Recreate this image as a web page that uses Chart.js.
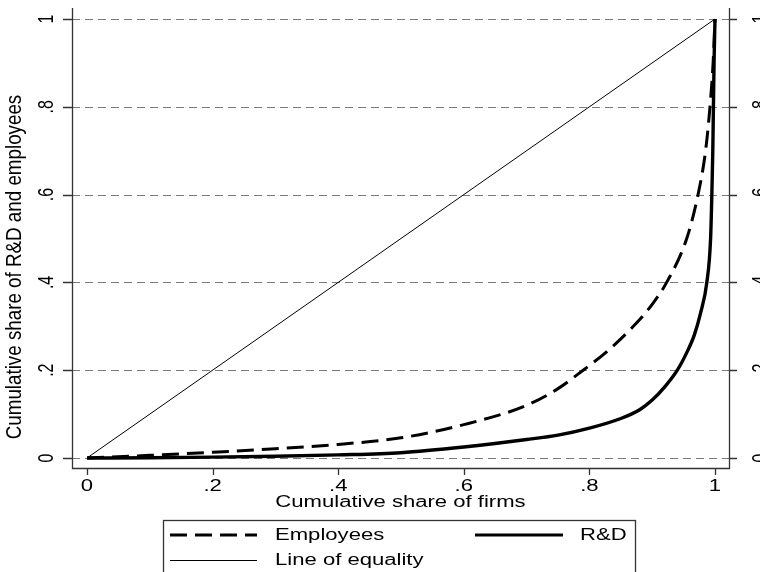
<!DOCTYPE html>
<html>
<head>
<meta charset="utf-8">
<script src="https://cdn.jsdelivr.net/npm/chart.js@4.4.1/dist/chart.umd.min.js"></script>
<style>
  html, body { margin: 0; padding: 0; background: #fff; }
  #wrap { width: 760px; height: 572px; position: relative; }
</style>
</head>
<body>
<div id="wrap"><canvas id="lorenzChart" width="760" height="572"></canvas></div>
<script>
// Lorenz curves
const shareFirmsEmp = [0, 0.1, 0.2, 0.3, 0.4, 0.5, 0.6, 0.7, 0.75, 0.79, 0.83, 0.87, 0.9, 0.923, 0.955, 0.973, 0.985, 0.992, 0.997, 1];
const shareEmployees = [0, 0.006, 0.013, 0.021, 0.031, 0.046, 0.076, 0.12, 0.158, 0.2, 0.245, 0.3, 0.35, 0.4, 0.5, 0.6, 0.7, 0.8, 0.9, 1];

const shareFirmsRD = [0, 0.1, 0.2, 0.3, 0.4, 0.5, 0.6, 0.7, 0.75, 0.8, 0.85, 0.88, 0.9, 0.92, 0.94, 0.955, 0.967, 0.977, 0.987, 0.993, 0.995, 0.9965, 0.9975, 0.9985, 1];
const shareRD = [0, 0.0005, 0.002, 0.004, 0.007, 0.012, 0.025, 0.042, 0.052, 0.068, 0.09, 0.11, 0.132, 0.162, 0.2, 0.24, 0.28, 0.33, 0.4, 0.5, 0.6, 0.7, 0.8, 0.9, 1];

const equalityX = [0, 1];
const equalityY = [0, 1];

const tickValues = [0, 0.2, 0.4, 0.6, 0.8, 1];
const tickLabels = ['0', '.2', '.4', '.6', '.8', '1'];

const SX = 1.38;   // the picture's text is stretched sideways
const FONT = '"Liberation Sans", Arial, sans-serif';

function pts(xs, ys) { return xs.map((x, i) => ({ x: x, y: ys[i] })); }

function txt(ctx, s, x, y, size, align, base, rot, sx) {
  ctx.save();
  ctx.translate(x, y);
  ctx.scale(sx || SX, 1);
  if (rot) ctx.rotate(-Math.PI / 2);
  ctx.font = size + 'px ' + FONT;
  ctx.fillStyle = '#000';
  ctx.textAlign = align;
  ctx.textBaseline = base;
  ctx.fillText(s, 0, 0);
  ctx.restore();
}

const stataFrame = {
  id: 'stataFrame',
  beforeDatasetsDraw(chart) {
    const { ctx, chartArea: a, scales: { y } } = chart;
    ctx.save();
    ctx.strokeStyle = '#7a7a7a';
    ctx.lineWidth = 1;
    ctx.setLineDash([8, 5]);
    tickValues.forEach(v => {
      const py = Math.round(y.getPixelForValue(v)) + 0.5;
      ctx.beginPath(); ctx.moveTo(a.left, py); ctx.lineTo(a.right, py); ctx.stroke();
    });
    ctx.restore();
  },
  afterDatasetsDraw(chart) {
    const { ctx, chartArea: a, scales: { x, y } } = chart;
    ctx.save();
    ctx.strokeStyle = '#333';
    ctx.lineWidth = 1.3;
    ctx.beginPath();
    ctx.moveTo(a.left + 0.5, a.top); ctx.lineTo(a.left + 0.5, a.bottom + 0.5);
    ctx.lineTo(a.right + 0.5, a.bottom + 0.5); ctx.lineTo(a.right + 0.5, a.top);
    ctx.stroke();
    ctx.beginPath();
    tickValues.forEach(v => {
      const py = Math.round(y.getPixelForValue(v)) + 0.5;
      ctx.moveTo(a.left - 9, py); ctx.lineTo(a.left, py);
      ctx.moveTo(a.right, py); ctx.lineTo(a.right + 8, py);
      const px = Math.round(x.getPixelForValue(v)) + 0.5;
      ctx.moveTo(px, a.bottom); ctx.lineTo(px, a.bottom + 7);
    });
    ctx.stroke();
    ctx.restore();

    tickValues.forEach((v, i) => {
      const py = y.getPixelForValue(v);
      txt(ctx, tickLabels[i], 53, py, 16, 'center', 'alphabetic', true);
      txt(ctx, tickLabels[i], 767, py, 16, 'center', 'alphabetic', true);
      txt(ctx, tickLabels[i], x.getPixelForValue(v), 487, 16, 'center', 'middle', false);
    });
    txt(ctx, 'Cumulative share of firms', (a.left + a.right) / 2, 503, 16, 'center', 'middle', false);
    txt(ctx, 'Cumulative share of R&D and employees', 21, 267, 18.8, 'center', 'alphabetic', true, 1.15);

    // legend
    ctx.save();
    ctx.strokeStyle = '#333';
    ctx.lineWidth = 1.3;
    ctx.strokeRect(163.5, 520.5, 472, 70);
    ctx.strokeStyle = '#000';
    ctx.lineWidth = 3;
    ctx.setLineDash([17, 8]);
    ctx.beginPath(); ctx.moveTo(170, 535); ctx.lineTo(257, 535); ctx.stroke();
    ctx.setLineDash([]);
    ctx.lineWidth = 3;
    ctx.beginPath(); ctx.moveTo(475, 535); ctx.lineTo(563, 535); ctx.stroke();
    ctx.lineWidth = 1;
    ctx.beginPath(); ctx.moveTo(170, 560.5); ctx.lineTo(257, 560.5); ctx.stroke();
    ctx.restore();
    const ds = chart.data.datasets;
    txt(ctx, ds[1].label, 275, 536, 16, 'left', 'middle', false);
    txt(ctx, ds[2].label, 580, 536, 16, 'left', 'middle', false);
    txt(ctx, ds[0].label, 275, 561, 16, 'left', 'middle', false);
  }
};

new Chart(document.getElementById('lorenzChart').getContext('2d'), {
  type: 'scatter',
  data: {
    datasets: [
      { label: 'Line of equality', data: pts(equalityX, equalityY), showLine: true,
        borderColor: '#000', borderWidth: 1, pointRadius: 0 },
      { label: 'Employees', data: pts(shareFirmsEmp, shareEmployees), showLine: true,
        borderColor: '#000', borderWidth: 3, borderDash: [17, 8], pointRadius: 0,
        cubicInterpolationMode: 'monotone' },
      { label: 'R&D', data: pts(shareFirmsRD, shareRD), showLine: true,
        borderColor: '#000', borderWidth: 3.4, pointRadius: 0,
        cubicInterpolationMode: 'monotone' }
    ]
  },
  options: {
    responsive: false,
    animation: false,
    layout: { padding: { left: 72, right: 31, top: 8, bottom: 104 } },
    scales: {
      x: { type: 'linear', min: -0.0239, max: 1.0223, display: false },
      y: { type: 'linear', min: -0.0228, max: 1.0251, display: false }
    },
    plugins: { legend: { display: false }, tooltip: { enabled: false } }
  },
  plugins: [stataFrame]
});
</script>
</body>
</html>
